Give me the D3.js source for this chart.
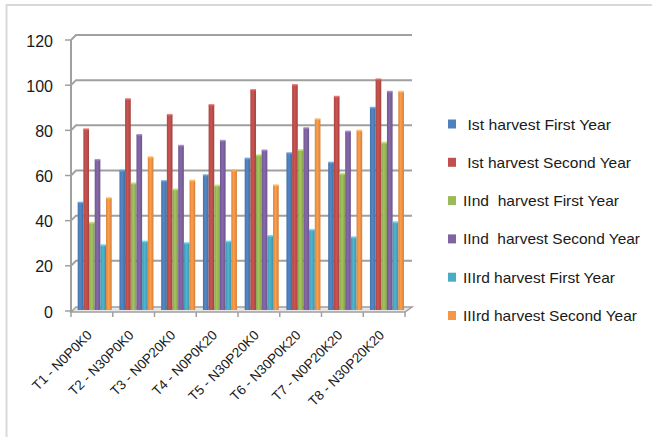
<!DOCTYPE html>
<html>
<head>
<meta charset="utf-8">
<script src="https://cdn.jsdelivr.net/npm/d3@7/dist/d3.min.js"></script>
<style>
  html, body { margin: 0; padding: 0; background: #fff; }
  svg { display: block; font-family: "Liberation Sans", Arial, sans-serif; }
</style>
</head>
<body>
<svg id="chart" width="652" height="437"></svg>
<script>
// Treatments on the x axis
const categories = ["T1 - N0P0K0", "T2 - N30P0K0", "T3 - N0P20K0", "T4 - N0P0K20",
                    "T5 - N30P20K0", "T6 - N30P0K20", "T7 - N0P20K20", "T8 - N30P20K20"];

// Series names as they appear in the legend
const seriesNames = [" Ist harvest First Year", " Ist harvest Second Year",
                     "IInd  harvest First Year", "IInd  harvest Second Year",
                     "IIIrd harvest First Year", "IIIrd harvest Second Year"];

// Values per series, one per treatment
const istFirst   = [46.8, 61.0, 56.4, 59.0, 66.4, 68.8, 64.6, 89.0];
const istSecond  = [79.4, 92.8, 85.8, 90.2, 96.9, 99.1, 93.9, 101.6];
const iindFirst  = [37.9, 55.4, 52.7, 54.4, 67.9, 70.2, 59.6, 73.5];
const iindSecond = [65.8, 76.9, 72.1, 74.3, 70.0, 79.9, 78.4, 96.1];
const iiirdFirst = [27.9, 29.5, 28.8, 29.5, 32.0, 34.7, 31.4, 38.1];
const iiirdSecond= [48.8, 67.0, 56.6, 61.3, 54.5, 83.9, 78.8, 96.1];

const yTicks = [0, 20, 40, 60, 80, 100, 120];

const seriesValues = [istFirst, istSecond, iindFirst, iindSecond, iiirdFirst, iiirdSecond];
const colors = ["#4F81BD", "#C0504D", "#9BBB59", "#8064A2", "#4BACC6", "#F79646"];
const legendWidths = [144, 164, 156, 177, 152, 174];

const svg = d3.select("#chart");

// chart area border (only the left and top edges fall inside the frame)
svg.append("rect").attr("x", 6.5).attr("y", 5).attr("width", 700).attr("height", 500)
  .attr("fill", "none").attr("stroke", "#d9d9d9").attr("stroke-width", 2);

// 3D depth offset of the back wall
const dx = 5, dy = -5;

const x0 = d3.scaleBand().domain(categories).range([71, 405]).paddingInner(0).paddingOuter(0);
const x1 = d3.scaleBand().domain(d3.range(seriesNames.length))
  .range([x0.bandwidth() * 0.16, x0.bandwidth() * 0.975]);

// front (axis) scale and bar scale
const yf = d3.scaleLinear().domain([0, 120]).range([311, 40]);
const yb = d3.scaleLinear().domain([0, 120]).range([308, 38]);

const defs = svg.append("defs");
colors.forEach((c, i) => {
  const g = defs.append("linearGradient").attr("id", "g" + i)
    .attr("x1", "0").attr("x2", "1").attr("y1", "0").attr("y2", "0");
  const base = d3.color(c);
  g.append("stop").attr("offset", "0").attr("stop-color", base.darker(0.35));
  g.append("stop").attr("offset", "0.45").attr("stop-color", base.brighter(0.15));
  g.append("stop").attr("offset", "1").attr("stop-color", base.darker(0.45));
});

const grid = svg.append("g");
// floor
const fl = yf(0) + 1;
grid.append("path")
  .attr("d", `M71,${fl} L${71 + dx},${fl + dy} L${405 + dx + 2},${fl + dy} L405,${fl} Z`)
  .attr("fill", "#e6e6e6").attr("stroke", "#a0a0a0").attr("stroke-width", 1.5);

// gridlines on the back wall with diagonals on the side wall
yTicks.forEach(t => {
  if (t === 0) return;
  const y = yf(t);
  grid.append("path")
    .attr("d", `M71,${y} L${71 + dx},${y + dy} L${405 + dx + 2},${y + dy}`)
    .attr("fill", "none").attr("stroke", "#a0a0a0").attr("stroke-width", 2);
});

// vertical axis line and ticks
grid.append("line").attr("x1", 71).attr("x2", 71).attr("y1", yf(120)).attr("y2", fl)
  .attr("stroke", "#a0a0a0").attr("stroke-width", 2);
yTicks.forEach(t => {
  grid.append("line").attr("x1", 65).attr("x2", 71).attr("y1", yf(t)).attr("y2", yf(t))
    .attr("stroke", "#a0a0a0").attr("stroke-width", 1.5);
});
svg.append("g").selectAll("text").data(yTicks).join("text")
  .attr("x", 53).attr("y", d => yf(d) + 1).attr("dy", "0.35em")
  .attr("text-anchor", "end").attr("font-size", 16).attr("fill", "#1a1a1a")
  .text(d => d);

// x ticks along the floor front edge
const xTickPos = categories.map(c => x0(c)).concat([405]);
grid.selectAll(".xt").data(xTickPos).join("line")
  .attr("x1", d => d).attr("x2", d => d).attr("y1", fl).attr("y2", fl + 5)
  .attr("stroke", "#a0a0a0").attr("stroke-width", 1.5);

// bars
const barsG = svg.append("g");
categories.forEach((c, ci) => {
  seriesValues.forEach((vals, si) => {
    const v = vals[ci];
    const bx = x0(c) + x1(si);
    const w = x1.bandwidth();
    barsG.append("rect")
      .attr("x", bx).attr("y", yb(v))
      .attr("width", w).attr("height", yb(0) - yb(v) + 2)
      .attr("fill", `url(#g${si})`);
    // top cap
    barsG.append("rect")
      .attr("x", bx).attr("y", yb(v) - 1)
      .attr("width", w).attr("height", 2)
      .attr("fill", d3.color(colors[si]).brighter(0.5)).attr("opacity", 0.8);
  });
});

// rotated category labels
svg.append("g").selectAll("text").data(categories).join("text")
  .attr("transform", d => `translate(${x0(d) + x0.bandwidth() / 2 + 1},336) rotate(-45)`)
  .attr("text-anchor", "end").attr("font-size", 13.5).attr("fill", "#1a1a1a")
  .text(d => d);

// legend
const lg = svg.append("g");
seriesNames.forEach((name, i) => {
  const cy = 124 + i * 38.3;
  lg.append("rect").attr("x", 448).attr("y", cy - 4.5).attr("width", 8).attr("height", 9)
    .attr("fill", colors[i]);
  lg.append("text").attr("x", 463).attr("y", cy + 5.5)
    .attr("font-size", 15).attr("fill", "#1a1a1a")
    .attr("textLength", legendWidths[i] + (name.startsWith(" ") ? 4 : 0))
    .attr("lengthAdjust", "spacingAndGlyphs")
    .style("white-space", "pre")
    .text(name);
});
</script>
</body>
</html>
